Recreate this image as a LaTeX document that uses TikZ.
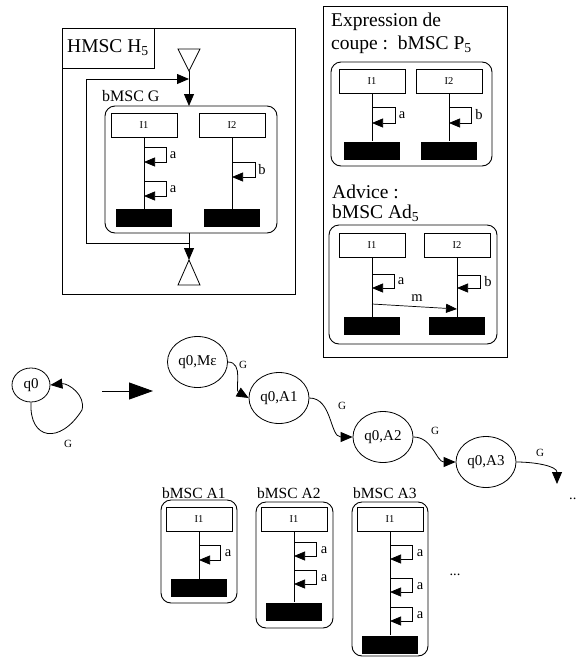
\documentclass[tikz,border=0pt]{standalone}
\usepackage{fontspec}
\setmainfont{Liberation Serif}
\usetikzlibrary{arrows.meta,shapes.geometric}

\tikzset{
  frame/.style={draw, line width=0.9pt},
  bmsc/.style={draw, line width=0.9pt, rounded corners=10pt},
  inst/.style={draw, line width=0.8pt, minimum width=66pt, minimum height=24pt, inner sep=0pt, font=\fontsize{10.5}{11}\selectfont},
  stopbox/.style={fill=black, minimum width=56pt, minimum height=18pt, inner sep=0pt},
  lifeline/.style={line width=0.9pt},
  selfmsg/.style={line width=0.7pt, -{Triangle[length=11pt,width=9pt]}},
  flow/.style={line width=0.8pt, -{Triangle[length=12pt,width=10pt]}},
  lbl/.style={font=\fontsize{14.5}{15}\selectfont, inner sep=0pt},
  big/.style={font=\fontsize{19.5}{21}\selectfont, inner sep=0pt, anchor=west},
  mid/.style={font=\fontsize{16}{17}\selectfont, inner sep=0pt, anchor=west},
  state/.style={draw, ellipse, line width=0.8pt, minimum width=60pt, minimum height=51pt, inner sep=0pt, font=\fontsize{15}{16}\selectfont},
  glbl/.style={font=\fontsize{11}{12}\selectfont, inner sep=0pt},
}

\begin{document}
\begin{tikzpicture}[x=1pt, y=-1pt]
  \useasboundingbox (0,0) rectangle (577,659);

  % === HMSC H5 ===
  \draw[frame] (62,28) rectangle (295,294);
  \draw[frame] (62,28) rectangle (154,68);
  \node[big, anchor=center] (htitle) at (108,48) {HMSC H\textsubscript{5}};

  % triangles in / out
  \coordinate (hin) at (189,71);
  \draw[line width=0.8pt] (178,49) -- (200,49) -- (hin) -- cycle;
  \coordinate (hout) at (189,260);
  \draw[line width=0.8pt] (hout) -- (200,285) -- (178,285) -- cycle;

  \coordinate (gtop) at (189,106);
  \coordinate (gbot) at (189,233);
  \coordinate (gret) at (189,243);
  \coordinate (gleft) at (86,79);
  \coordinate (gjoin) at (189,79);
  \draw[flow] (hin) -- (gtop);
  \draw[flow] (gbot) -- (hout);
  \draw[flow] (gret) -| (gleft) -- (gjoin);

  % bMSC G
  \node[mid] (glabel) at (102,96) {bMSC G};
  \draw[bmsc] (105,106) rectangle (277,233);
  \node[inst] (gi1) at (144,125) {I1};
  \node[inst] (gi2) at (232,125) {I2};
  \node[stopbox] (gs1) at (144,218) {};
  \node[stopbox] (gs2) at (232,218) {};
  \draw[lifeline] (gi1) -- (gs1);
  \draw[lifeline] (gi2) -- (gs2);
  \foreach \y in {147,181} {
    \draw[selfmsg] (144,\y) -- ++(22,0) -- ++(0,15) -- ++(-22,0);
    \node[lbl] (ga\y) at (173,\y+8) {a};
  }
  \draw[selfmsg] (232,162) -- ++(23,0) -- ++(0,15) -- ++(-23,0);
  \node[lbl] (gb) at (262,170) {b};

  % === Expression de coupe / Advice ===
  \draw[frame] (323,6) rectangle (507,357);
  \node[big] (expr1) at (331,22) {Expression de};
  \node[big] (expr2) at (331,45) {coupe :\ \ bMSC P\textsubscript{5}};

  % bMSC P5
  \draw[bmsc] (331,62) rectangle (492,166);
  \node[inst] (pi1) at (372,81.5) {I1};
  \node[inst] (pi2) at (449,81.5) {I2};
  \node[stopbox] (ps1) at (372,150.5) {};
  \node[stopbox] (ps2) at (449,150.5) {};
  \draw[lifeline] (pi1) -- (ps1);
  \draw[lifeline] (pi2) -- (ps2);
  \draw[selfmsg] (372,107) -- ++(23,0) -- ++(0,16) -- ++(-23,0);
  \node[lbl] (pa) at (402,115) {a};
  \draw[selfmsg] (449,107) -- ++(22,0) -- ++(0,16) -- ++(-22,0);
  \node[lbl] (pb) at (479,115) {b};

  % bMSC Ad5
  \node[big] (adv1) at (332,192) {Advice :};
  \node[big] (adv2) at (332,213) {bMSC Ad\textsubscript{5}};
  \draw[bmsc] (329,225) rectangle (497,344);
  \node[inst] (di1) at (372,245.5) {I1};
  \node[inst] (di2) at (457,245.5) {I2};
  \node[stopbox] (ds1) at (372,326) {};
  \node[stopbox] (ds2) at (457,326) {};
  \draw[lifeline] (di1) -- (ds1);
  \draw[lifeline] (di2) -- (ds2);
  \draw[selfmsg] (372,274) -- ++(22,0) -- ++(0,14) -- ++(-22,0);
  \node[lbl] (da) at (401,281) {a};
  \draw[selfmsg] (457,275) -- ++(23,0) -- ++(0,13) -- ++(-23,0);
  \node[lbl] (db) at (488,282) {b};
  \coordinate (dm1) at (372,304);
  \coordinate (dm2) at (457,309);
  \draw[selfmsg] (dm1) -- (dm2);
  \node[lbl] (dm) at (417,298) {m};

  % === automate ===
  \node[state, minimum width=38pt, minimum height=34pt] (q0) at (31,385) {q0};
  \draw[flow] (q0.south) .. controls (29,440) and (60,445) .. (82,410)
              .. controls (86,395) and (68,383) .. (q0.east);
  \node[glbl] (gq0) at (68,444) {G};

  \coordinate (bigs) at (102,391);
  \coordinate (bige) at (153,391);
  \draw[line width=0.9pt, -{Triangle[length=24pt,width=17pt]}] (bigs) -- (bige);

  \node[state] (sme) at (197.5,362) {q0,Mε};
  \node[state] (sa1) at (279,398) {q0,A1};
  \node[state] (sa2) at (383,437) {q0,A2};
  \node[state] (sa3) at (486,462) {q0,A3};
  \coordinate (more) at (557,484);
  \node[lbl, anchor=base west] (dots) at (569,499) {..};

  \draw[flow] (sme.east) to[out=0, in=150] (sa1.west);
  \node[glbl] (g1) at (243,365) {G};
  \draw[flow] (sa1.east) to[out=0, in=180] (sa2.west);
  \node[glbl] (g2) at (342,406) {G};
  \draw[flow] (sa2.east) to[out=0, in=180] (sa3.west);
  \node[glbl] (g3) at (435,431) {G};
  \draw[flow] (sa3.east) to[out=0, in=90] (more);
  \node[glbl] (g4) at (540,453) {G};

  % === bMSC A1, A2, A3 ===
  \node[mid, font=\fontsize{15.5}{16}\selectfont] (a1lbl) at (162,493) {bMSC A1};
  \draw[bmsc] (161,500) rectangle (237,603);
  \node[inst] (a1i) at (199,519.5) {I1};
  \node[stopbox] (a1s) at (199,588) {};
  \draw[lifeline] (a1i) -- (a1s);
  \draw[selfmsg] (199,545) -- ++(21,0) -- ++(0,15) -- ++(-21,0);
  \node[lbl] (a1a) at (228,553) {a};

  \node[mid, font=\fontsize{15.5}{16}\selectfont] (a2lbl) at (257,493) {bMSC A2};
  \draw[bmsc] (256,502) rectangle (333,628);
  \node[inst] (a2i) at (294,519.5) {I1};
  \node[stopbox] (a2s) at (294,611.5) {};
  \draw[lifeline] (a2i) -- (a2s);
  \foreach \y in {542,570} {
    \draw[selfmsg] (294,\y) -- ++(22,0) -- ++(0,14) -- ++(-22,0);
    \node[lbl] (a2a\y) at (324,\y+8) {a};
  }

  \node[mid, font=\fontsize{15.5}{16}\selectfont] (a3lbl) at (353,493) {bMSC A3};
  \draw[bmsc] (352,502) rectangle (428,656);
  \node[inst] (a3i) at (390,519.5) {I1};
  \node[stopbox] (a3s) at (390,644.5) {};
  \draw[lifeline] (a3i) -- (a3s);
  \foreach \y in {545,578,607} {
    \draw[selfmsg] (390,\y) -- ++(22,0) -- ++(0,14) -- ++(-22,0);
    \node[lbl] (a3a\y) at (420,\y+8) {a};
  }
  \node[lbl] (amore) at (455,575) {...};
\end{tikzpicture}
\end{document}
